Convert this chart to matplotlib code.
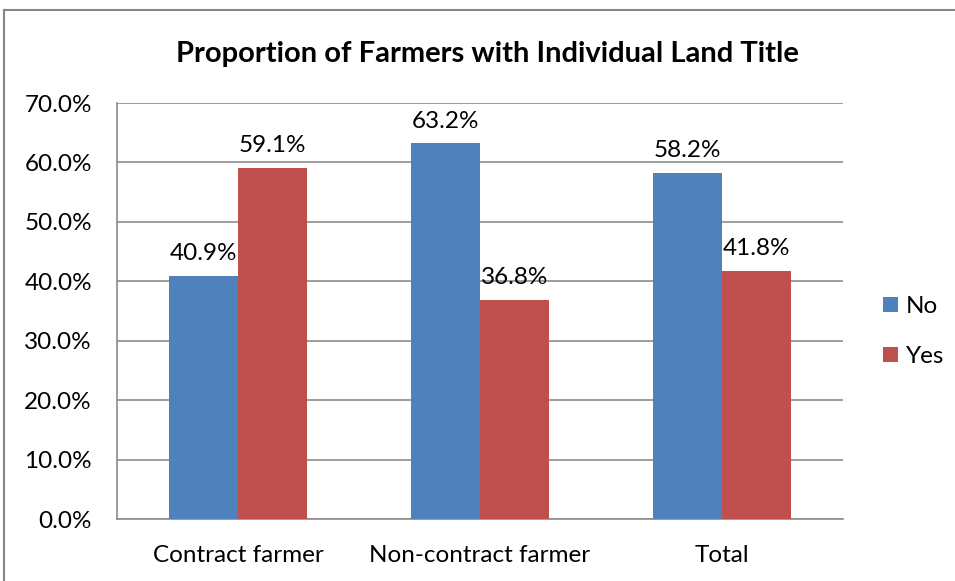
import numpy as np
import matplotlib
matplotlib.use('Agg')
import matplotlib.pyplot as plt
from matplotlib.lines import Line2D
from matplotlib.ticker import PercentFormatter

plt.rcParams['font.family'] = ['Lato', 'DejaVu Sans']

categories = ['Contract farmer', 'Non-contract farmer', 'Total']
no_share = [40.9, 63.2, 58.2]
yes_share = [59.1, 36.8, 41.8]
y_ticks = [0, 10, 20, 30, 40, 50, 60, 70]

blue = '#4F81BD'
red = '#C0504D'
grid_gray = '#8C8C8C'

fig = plt.figure(figsize=(9.55, 5.81), dpi=100)
ax = fig.add_axes([0.1225, 0.1067, 0.7602, 0.716])

x = np.arange(len(categories))
w = 1 / 3.5
bars_no = ax.bar(x - w / 2, no_share, w, color=blue, label='No', zorder=3)
bars_yes = ax.bar(x + w / 2, yes_share, w, color=red, label='Yes', zorder=3)

for bars in (bars_no, bars_yes):
    for b in bars:
        h = b.get_height()
        ax.text(b.get_x() + b.get_width() / 2, h + 2.0, f'{h:.1f}%',
                ha='center', va='bottom', fontsize=17.5, color='black')

ax.set_xlim(-0.5, 2.5)
ax.set_ylim(0, 70)
ax.set_yticks(y_ticks)
ax.yaxis.set_major_formatter(PercentFormatter(decimals=1))
ax.set_xticks(x)
ax.set_xticklabels(categories)
ax.tick_params(axis='both', length=0, labelsize=17.5, colors='black')
ax.tick_params(axis='x', pad=18.5)
ax.tick_params(axis='y', pad=18)
ax.grid(axis='y', color=grid_gray, linewidth=1.2, zorder=0)
for side in ('top', 'right'):
    ax.spines[side].set_visible(False)
for side in ('left', 'bottom'):
    ax.spines[side].set_color(grid_gray)
    ax.spines[side].set_linewidth(1.2)

fig.text(0.5105, 0.907, 'Proportion of Farmers with Individual Land Title',
         ha='center', va='center', fontsize=21, fontweight='bold')

ax.legend(loc='center left', bbox_to_anchor=(1.025, 0.451), frameon=False,
          fontsize=17.5, handlelength=0.6, handleheight=0.6,
          labelspacing=1.2, handletextpad=0.35)

# chart frame
fig.add_artist(Line2D([4 / 955, 4 / 955], [0, 1 - 10 / 581],
                      transform=fig.transFigure, color='#868686', linewidth=1.5))
fig.add_artist(Line2D([4 / 955, 1], [1 - 10 / 581, 1 - 10 / 581],
                      transform=fig.transFigure, color='#868686', linewidth=1.5))

fig.savefig('out.png', dpi=100)
